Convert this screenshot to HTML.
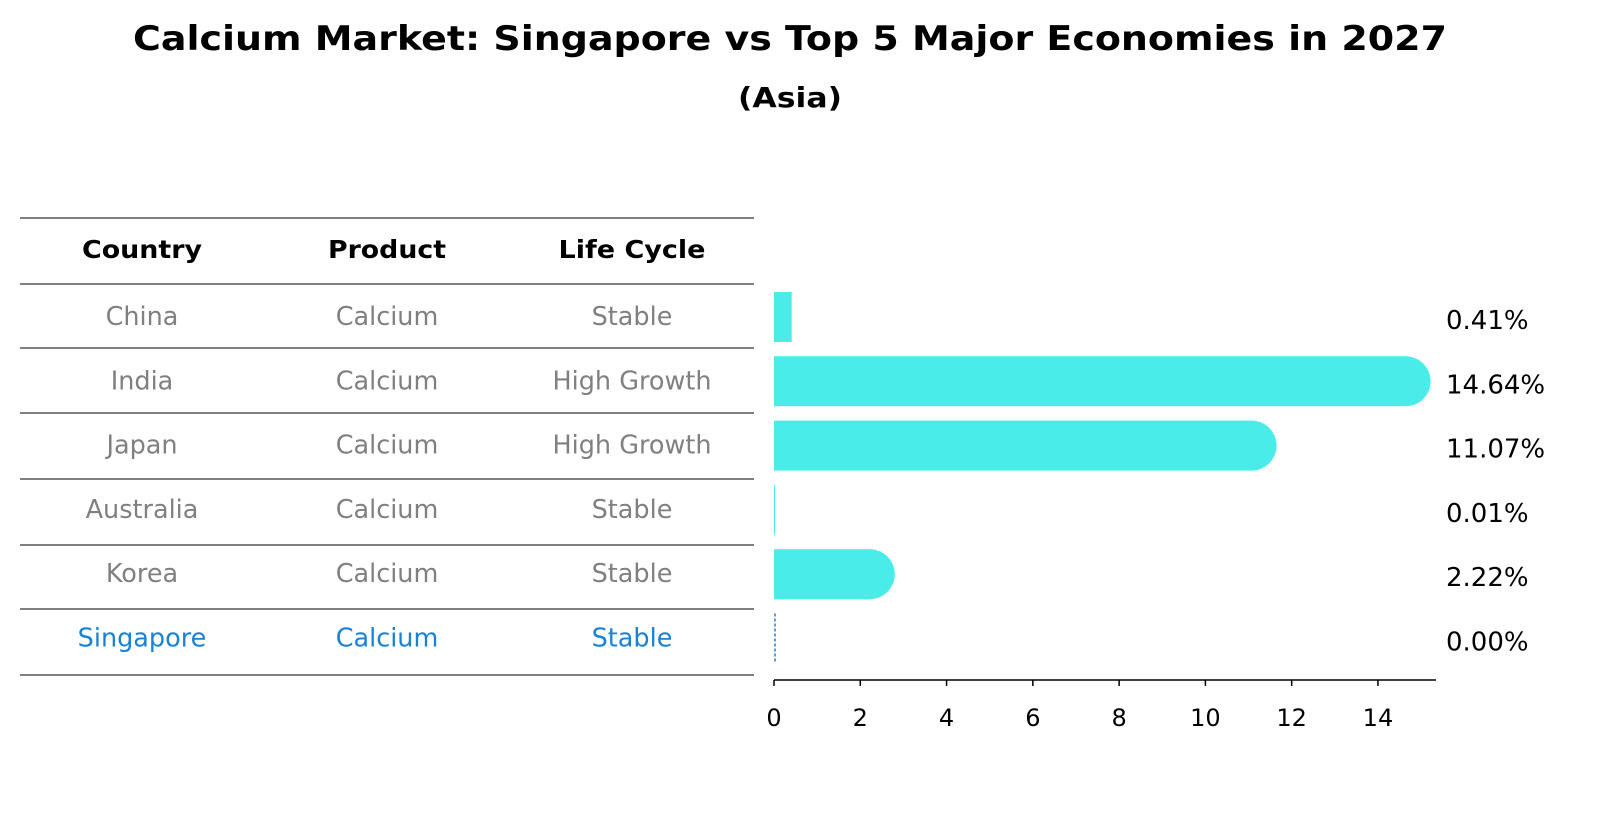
<!DOCTYPE html>
<html><head><meta charset="utf-8"><style>
body{margin:0;background:#fff;font-family:"Liberation Sans","DejaVu Sans",sans-serif}
svg text{font-family:"DejaVu Sans","Liberation Sans",sans-serif}
</style></head><body>
<svg id="c" width="1604" height="823" xmlns="http://www.w3.org/2000/svg">
<text x="790" y="50" text-anchor="middle" font-size="34" font-weight="bold" textLength="1314" lengthAdjust="spacingAndGlyphs">Calcium Market: Singapore vs Top 5 Major Economies in 2027</text>
<text x="790" y="107" text-anchor="middle" font-size="28" font-weight="bold" textLength="104" lengthAdjust="spacingAndGlyphs">(Asia)</text>
<g id="tbl"></g>
<g id="bars"></g>
</svg>
<script>
const countries=["China","India","Japan","Australia","Korea","Singapore"];
const products=["Calcium","Calcium","Calcium","Calcium","Calcium","Calcium"];
const lifeCycles=["Stable","High Growth","High Growth","Stable","Stable","Stable"];
const values=[0.41,14.64,11.07,0.01,2.22,0.00];
const xTicks=[0,2,4,6,8,10,12,14];
const NS="http://www.w3.org/2000/svg";
function mk(tag,attrs,parent){const e=document.createElementNS(NS,tag);for(const k in attrs)e.setAttribute(k,attrs[k]);parent.appendChild(e);return e;}
const tbl=document.getElementById('tbl'),bars=document.getElementById('bars');
const lineYs=[218,284,348,413,479,545,609,675];
const colX=[142,387,632];
const rowY=i=>317+i*64.3;
const x=v=>774+v*43.14;
lineYs.forEach((y,i)=>{const l=mk('line',{x1:20,x2:754,y1:y,y2:y,stroke:'#000','stroke-width':1},tbl);

});
const hdrW=[120,118,147];
["Country","Product","Life Cycle"].forEach((h,j)=>{const t=mk('text',{x:colX[j],y:258,'text-anchor':'middle','font-size':25,'font-weight':'bold',textLength:hdrW[j],lengthAdjust:'spacingAndGlyphs'},tbl);t.textContent=h;

});
countries.forEach((c,i)=>{const col=c==="Singapore"?'#1a82d4':'#808080';
[c,products[i],lifeCycles[i]].forEach((s,j)=>{const t=mk('text',{x:colX[j],y:rowY(i)+8,'text-anchor':'middle','font-size':25.5,fill:col},tbl);t.textContent=s;

});});
const bh=50,r=25;
values.forEach((v,i)=>{const cy=rowY(i),x0=x(0),x1=x(v);let el;
if(countries[i]==="Singapore"){el=mk('line',{x1:x0+1,x2:x0+1,y1:cy-25,y2:cy+25,stroke:'#1a82d4','stroke-width':1.5,'stroke-dasharray':'3,2'},bars);}
else if(v>1){el=mk('path',{d:`M${x0},${cy-r}H${x1}A${r},${r} 0 0 1 ${x1},${cy+r}H${x0}Z`,fill:'#4aecea'},bars);}
else{el=mk('rect',{x:x0,y:cy-r,width:Math.max(x1-x0,1),height:bh,fill:'#4aecea'},bars);}


const t=mk('text',{x:1446,y:cy+12,'font-size':26},bars);t.textContent=v.toFixed(2)+'%';

});
const ax=mk('line',{x1:774,x2:1436,y1:680,y2:680,stroke:'#000','stroke-width':1.5},bars);


xTicks.forEach(v=>{const tk=mk('line',{x1:x(v),x2:x(v),y1:680,y2:686,stroke:'#000','stroke-width':1.5},bars);


const t=mk('text',{x:x(v),y:726,'text-anchor':'middle','font-size':24},bars);t.textContent=v;

});
</script>
</body></html>
